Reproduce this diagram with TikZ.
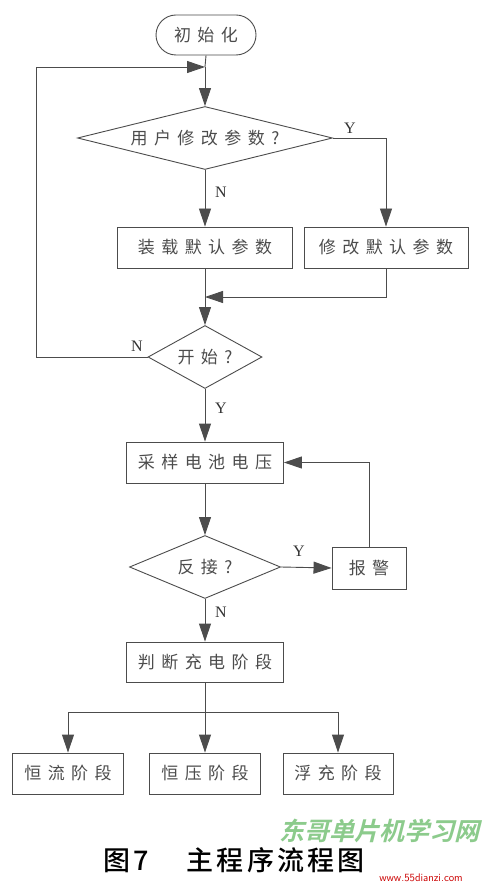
\documentclass[tikz,border=0pt]{standalone}
\usepackage{fontspec}
\setmainfont{Liberation Serif}
\newfontfamily\cjk[LetterSpace=38]{Noto Sans CJK SC}
\newfontfamily\cjkcap[LetterSpace=12]{Noto Sans CJK SC Medium}
\newfontfamily\cjkwm[FakeSlant=0.25]{Noto Sans CJK SC Bold}
\usetikzlibrary{shapes.geometric,shapes.misc,arrows.meta}
\definecolor{ln}{gray}{0.3}
\definecolor{tx}{gray}{0.3}
\tikzset{
  every node/.style={font=\fontsize{17pt}{19pt}\selectfont\cjk, text=tx},
  procbox/.style={draw=ln, line width=0.9pt, rectangle, inner sep=0pt},
  decide/.style={draw=ln, line width=0.9pt, diamond, inner sep=0pt},
  term/.style={draw=ln, line width=0.9pt, rounded rectangle, inner sep=0pt, minimum width=100pt, minimum height=40pt},
  conn/.style={draw=ln, line width=0.9pt},
  arr/.style={conn, -{Triangle[length=18pt,width=12pt]}},
  yn/.style={font=\fontsize{16pt}{18pt}\selectfont\rmfamily, text=black!80}
}
\begin{document}
\begin{tikzpicture}[x=1pt,y=-1pt]
\useasboundingbox (0,0) rectangle (490,890);
\fill[white] (0,0) rectangle (490,890);
% nodes
\node[term] (init) at (206,35) {初始化};
\node[decide, aspect=4, minimum width=255pt, minimum height=63pt] (d1) at (205,138) {用户修改参数?};
\node[procbox, minimum width=175pt, minimum height=41pt] (b1) at (205,247.5) {装载默认参数};
\node[procbox, minimum width=164pt, minimum height=41pt] (b2) at (386,247.5) {修改默认参数};
\node[decide, aspect=1.8, minimum width=114pt, minimum height=63pt] (d2) at (205,357) {开始?};
\node[procbox, minimum width=157pt, minimum height=41pt] (b3) at (205,462.5) {采样电池电压};
\node[decide, aspect=2.4, minimum width=151pt, minimum height=63pt] (d3) at (205,567) {反接?};
\node[procbox, minimum width=74pt, minimum height=42pt] (b4) at (369,568) {报警};
\node[procbox, minimum width=157pt, minimum height=40pt] (b5) at (205,662) {判断充电阶段};
\node[procbox, minimum width=111pt, minimum height=41pt] (b6) at (68,773.5) {恒流阶段};
\node[procbox, minimum width=111pt, minimum height=41pt] (b7) at (205,773.5) {恒压阶段};
\node[procbox, minimum width=110pt, minimum height=41pt] (b8) at (338,773.5) {浮充阶段};
\coordinate (m1) at (205,67);
\coordinate (lp) at (36,67);
\coordinate (m2) at (205,297);
\coordinate (j) at (205,712);
% connectors
\draw[conn] (init.south) -- (m1);
\draw[arr] (m1) -- (d1.north);
\draw[conn] (d2.west) -| (lp);
\draw[arr] (lp) -- (m1);
\draw[arr] (d1.east) -| (b2.north);
\draw[arr] (d1.south) -- (b1.north);
\draw[arr] (b1.south) -- (d2.north);
\draw[arr] (b2.south) |- (m2);
\draw[arr] (d2.south) -- (b3.north);
\draw[arr] (b3.south) -- (d3.north);
\draw[arr] (d3.east) -- (b4.west);
\draw[arr] (b4.north) |- (b3.east);
\draw[arr] (d3.south) -- (b5.north);
\draw[conn] (b5.south) -- (j);
\draw[arr] (j) -| (b6.north);
\draw[arr] (j) -- (b7.north);
\draw[arr] (j) -| (b8.north);
% labels
\node[yn] (ly1) at (350,128) {Y};
\node[yn] (ln1) at (221,192) {N};
\node[yn] (ln2) at (137,346) {N};
\node[yn] (ly2) at (221,408) {Y};
\node[yn] (ly3) at (299,551) {Y};
\node[yn] (ln3) at (221,612) {N};
% watermark
\node[font=\fontsize{25pt}{27pt}\selectfont\cjkwm, text=green!55!black, opacity=0.45] (wm) at (379,831) {东哥单片机学习网};
\node[font=\fontsize{11pt}{13pt}\selectfont\sffamily, text=red!80!black] (url) at (421,878) {www.55dianzi.com};
% caption
\node[font=\fontsize{27pt}{30pt}\selectfont\cjkcap, text=black] (cap) at (234,860) {图7\hspace{38pt}主程序流程图};
\end{tikzpicture}
\end{document}
